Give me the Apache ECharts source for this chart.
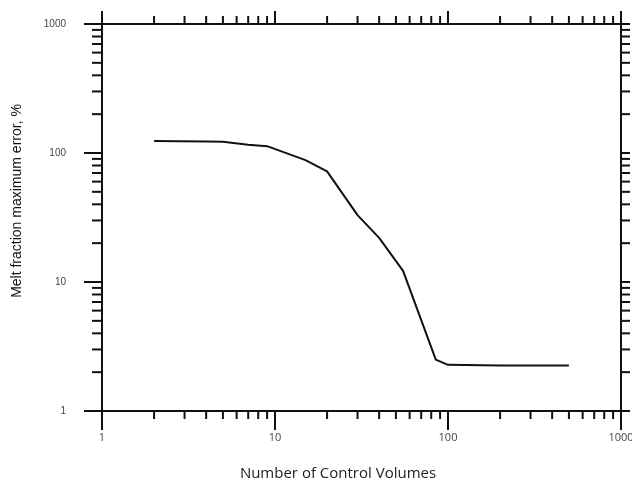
<!DOCTYPE html>
<html>
<head>
    <meta charset="utf-8"/>
    <title>Melt fraction error</title>
    <script src="https://cdn.jsdelivr.net/npm/echarts@6/dist/echarts.min.js"></script>
    <style>
        html, body { margin: 0; padding: 0; background: #fff; }
        #chart { width: 632px; height: 486px; }
    </style>
</head>
<body>
<div id="chart"></div>
<script type="text/javascript">
    // data
    var controlVolumes = [2, 4, 5, 7, 9, 15, 20, 30, 40, 55, 85, 100, 200, 500];
    var maxError = [124, 123, 122, 116, 113, 88, 72, 33, 22, 12.2, 2.5, 2.28, 2.25, 2.25];

    // minor tick positions on both log axes (2..9 per decade)
    var minorTicks = [2, 3, 4, 5, 6, 7, 8, 9,
        20, 30, 40, 50, 60, 70, 80, 90,
        200, 300, 400, 500, 600, 700, 800, 900];

    var xTitle = 'Number of Control Volumes';
    var yTitle = 'Melt fraction maximum error, %';

    var myChart = echarts.init(document.getElementById('chart'), null, {renderer: 'canvas'});

    var tickStyle = {stroke: '#111', lineWidth: 2};

    function tick(x1, y1, x2, y2) {
        return {type: 'line', shape: {x1: x1, y1: y1, x2: x2, y2: y2}, style: tickStyle};
    }

    function plainLabel(v) {
        return String(v);
    }

    var option = {
        animation: false,
        grid: {left: 102, right: 11, top: 24, bottom: 75, containLabel: false, outerBoundsMode: 'none'},
        xAxis: [{
            type: 'log', logBase: 10, min: 1, max: 1000, splitNumber: 3,
            position: 'bottom',
            axisLine: {lineStyle: {color: '#111', width: 2}},
            axisTick: {length: 19, lineStyle: {color: '#111', width: 2}},
            axisLabel: {color: '#444', fontSize: 11, fontFamily: 'Open Sans', margin: 21, formatter: plainLabel},
            splitLine: {show: false}
        }, {
            type: 'log', logBase: 10, min: 1, max: 1000, splitNumber: 3,
            position: 'top',
            axisLine: {lineStyle: {color: '#111', width: 2}},
            axisTick: {length: 13, lineStyle: {color: '#111', width: 2}},
            axisLabel: {show: false},
            splitLine: {show: false}
        }],
        yAxis: [{
            type: 'log', logBase: 10, min: 1, max: 1000, splitNumber: 3,
            position: 'left',
            axisLine: {lineStyle: {color: '#111', width: 2}},
            axisTick: {length: 18, lineStyle: {color: '#111', width: 2}},
            axisLabel: {color: '#444', fontSize: 10, fontFamily: 'Liberation Sans', margin: 36, formatter: plainLabel},
            splitLine: {show: false}
        }, {
            type: 'log', logBase: 10, min: 1, max: 1000, splitNumber: 3,
            position: 'right',
            axisLine: {lineStyle: {color: '#111', width: 2}},
            axisTick: {length: 9, lineStyle: {color: '#111', width: 2}},
            axisLabel: {show: false},
            splitLine: {show: false}
        }],
        graphic: [{
            type: 'text', x: 338, y: 474,
            style: {
                text: xTitle, fill: '#222', font: '500 15px "Open Sans"',
                textAlign: 'center', textVerticalAlign: 'middle'
            }
        }, {
            type: 'text', x: 17, y: 201, rotation: Math.PI / 2,
            style: {
                text: yTitle, fill: '#111', font: '14px "Liberation Sans Narrow", "Liberation Sans"',
                textAlign: 'center', textVerticalAlign: 'middle'
            }
        }],
        series: [{
            // minor ticks on bottom and top axes
            type: 'custom', silent: true, xAxisIndex: 0, yAxisIndex: 0,
            data: minorTicks.map(function (v) { return [v, 1]; }),
            renderItem: function (params, api) {
                var cs = params.coordSys;
                var px = api.coord([api.value(0), 1])[0];
                var bottom = cs.y + cs.height;
                return {type: 'group', children: [
                    tick(px, bottom, px, bottom + 8),
                    tick(px, cs.y, px, cs.y - 8)
                ]};
            }
        }, {
            // minor ticks on left and right axes
            type: 'custom', silent: true, xAxisIndex: 0, yAxisIndex: 0,
            data: minorTicks.map(function (v) { return [1, v]; }),
            renderItem: function (params, api) {
                var cs = params.coordSys;
                var py = api.coord([1, api.value(1)])[1];
                var right = cs.x + cs.width;
                return {type: 'group', children: [
                    tick(cs.x, py, cs.x - 10, py),
                    tick(right, py, right + 9, py)
                ]};
            }
        }, {
            name: 'error',
            type: 'line', xAxisIndex: 0, yAxisIndex: 0,
            data: controlVolumes.map(function (v, i) { return [v, maxError[i]]; }),
            symbol: 'none',
            lineStyle: {color: '#111', width: 2}
        }]
    };

    myChart.setOption(option);
</script>
</body>
</html>
